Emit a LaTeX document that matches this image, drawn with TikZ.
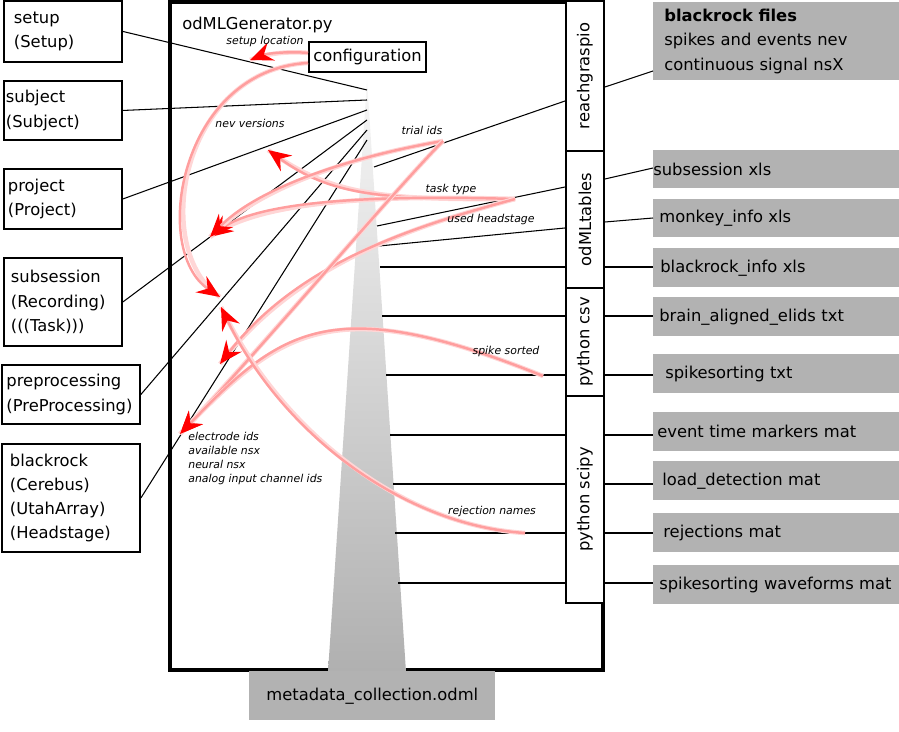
\documentclass[tikz,border=0pt]{standalone}
\usepackage{fontspec}
\setmainfont{DejaVu Sans}
\usepackage{graphicx}
\usepackage{xcolor}
\usepackage{tikz}
\usetikzlibrary{arrows.meta}

\newcommand{\boxfont}{\fontsize{9.3}{13.8}\selectfont}
\newcommand{\notefont}{\fontsize{6.2}{7.8}\selectfont\itshape}

\tikzset{
  obj/.style={draw, line width=1.1pt, anchor=north west, align=left, inner ysep=0pt, font=\boxfont},
  modbox/.style={draw, fill=white, line width=1.1pt, anchor=north west, inner sep=0pt, minimum width=0.76cm, font=\boxfont},
  filebox/.style={fill=gray!60, anchor=north west, align=left, inner xsep=0pt, inner ysep=0pt, text width=4.92cm, minimum height=0.78cm, font=\boxfont},
  link/.style={line width=0.6pt},
  flow/.style={draw=red!38, line width=1.4pt, preaction={draw=red!16, line width=2.6pt, arrows=-}, -{Stealth[red, length=13pt, width=11pt, inset=4.5pt]}},
  note/.style={font=\notefont, inner sep=0pt}
}

\begin{document}
\begin{tikzpicture}[x=0.02cm, y=-0.02cm]
        \useasboundingbox (0,0) rectangle (899,732);

        % generator frame and funnel
        \draw[line width=2.6pt] (170,1.5) rectangle (603,670);
        \node[anchor=west, inner sep=0pt, font=\boxfont] (gen) at (182,25) {odMLGenerator.py};
        \coordinate (apex) at (367,80);
        \shade[top color=gray!6, bottom color=gray!62] (apex) -- (406,672) -- (328,672) -- cycle;
        \node[fill=gray!60, anchor=north west, minimum width=4.92cm, minimum height=0.98cm, inner sep=0pt, font=\boxfont] (odml) at (249,671) {metadata\_collection.odml};

        \node[draw, line width=1.1pt, anchor=north west, minimum width=2.34cm, minimum height=0.6cm, inner sep=0pt, font=\boxfont] (cfg) at (308,41) {configuration};

        % odML sections
        \node[obj, inner xsep=0.2cm, text width=1.96cm, minimum height=1.22cm] (setup) at (3,0) {setup\\(Setup)};
        \node[obj, inner xsep=0.04cm, text width=2.28cm, minimum height=1.18cm] (subject) at (3,80) {subject\\(Subject)};
        \node[obj, inner xsep=0.08cm, text width=2.2cm, minimum height=1.2cm] (project) at (3,168) {project\\(Project)};
        \node[obj, inner xsep=0.14cm, text width=2.08cm, minimum height=1.76cm] (subs) at (3,257) {subsession\\(Recording)\\(((Task)))};
        \node[obj, inner xsep=0.09cm, text width=2.58cm, minimum height=1.18cm] (prepro) at (1,364) {preprocessing\\(PreProcessing)};
        \node[obj, inner xsep=0.16cm, text width=2.44cm, minimum height=2.16cm] (brock) at (1,443) {blackrock\\(Cerebus)\\(UtahArray)\\(Headstage)};

        % loaders
        \node[modbox, minimum height=3cm] (rg) at (565,0) {\rotatebox{90}{reachgraspio}};
        \node[modbox, minimum height=2.74cm] (odt) at (565,150) {\rotatebox{90}{odMLtables}};
        \node[modbox, minimum height=2.16cm] (csv) at (565,287) {\rotatebox{90}{python csv}};
        \node[modbox, minimum height=4.14cm] (scipy) at (565,395) {\rotatebox{90}{python scipy}};

        % source files
        \node[filebox, minimum height=1.56cm] (bfiles) at (653,2) {\hspace*{0.22cm}\textbf{blackrock files}\\\hspace*{0.22cm}spikes and events nev\\\hspace*{0.22cm}continuous signal nsX};
        \node[filebox, minimum height=0.76cm] (subxls) at (653,150) {subsession xls};
        \node[filebox, minimum height=0.76cm] (monkey) at (653,199) {\hspace*{0.12cm}monkey\_info xls};
        \node[filebox] (brinfo) at (653,248) {\hspace*{0.14cm}blackrock\_info xls};
        \node[filebox] (elids) at (653,297) {\hspace*{0.12cm}brain\_aligned\_elids txt};
        \node[filebox] (sstxt) at (653,354) {\hspace*{0.24cm}spikesorting txt};
        \node[filebox] (events) at (653,412) {\hspace*{0.08cm}event time markers mat};
        \node[filebox] (loaddet) at (653,461) {\hspace*{0.18cm}load\_detection mat};
        \node[filebox] (rejmat) at (653,513) {\hspace*{0.2cm}rejections mat};
        \node[filebox] (wave) at (653,565) {\hspace*{0.12cm}spikesorting waveforms mat};

        % funnel ends
        \coordinate (fl1) at (367,90);
        \coordinate (fl2) at (367,100);
        \coordinate (fl3) at (367,110);
        \coordinate (fl4) at (367,120);
        \coordinate (fl5) at (367,130);
        \coordinate (fl6) at (367,140);
        \coordinate (fr1) at (374,167);
        \coordinate (fr2) at (377,226);
        \coordinate (fr3) at (379,246);
        \coordinate (fr4) at (380,267);
        \coordinate (fr5) at (382,316);
        \coordinate (fr6) at (386,375);
        \coordinate (fr7) at (390,435);
        \coordinate (fr8) at (393,484);
        \coordinate (fr9) at (395,533);
        \coordinate (fr10) at (398,583);

        \draw[link] (setup.east) -- (fl1);
        \draw[link] (subject.east) -- (fl2);
        \draw[link] (project.east) -- (fl3);
        \draw[link] (subs.east) -- (fl4);
        \draw[link] (prepro.east) -- (fl5);
        \draw[link] (brock.east) -- (fl6);

        \draw[link] (fr1) -- (rg.west |- 0,101);
        \draw[link] (fr2) -- (odt.west |- 0,187);
        \draw[link] (fr3) -- (odt.west |- 0,228);
        \draw[link] (fr4) -- (odt.west |- fr4);
        \draw[link] (fr5) -- (csv.west |- fr5);
        \draw[link] (fr6) -- (csv.west |- fr6);
        \draw[link] (fr7) -- (scipy.west |- fr7);
        \draw[link] (fr8) -- (scipy.west |- fr8);
        \draw[link] (fr9) -- (scipy.west |- fr9);
        \draw[link] (fr10) -- (scipy.west |- fr10);

        \draw[link] (rg.east |- 0,87) -- (bfiles.west |- 0,71);
        \draw[link] (odt.east |- 0,179) -- (subxls.west |- 0,168);
        \draw[link] (odt.east |- 0,222) -- (monkey.west |- 0,218);
        \draw[link] (odt.east |- 0,267) -- (brinfo.west |- 0,267);
        \draw[link] (csv.east |- 0,316) -- (elids.west |- 0,316);
        \draw[link] (csv.east |- 0,375) -- (sstxt.west |- 0,375);
        \draw[link] (scipy.east |- 0,435) -- (events.west |- 0,435);
        \draw[link] (scipy.east |- 0,484) -- (loaddet.west |- 0,484);
        \draw[link] (scipy.east |- 0,533) -- (rejmat.west |- 0,533);
        \draw[link] (scipy.east |- 0,583) -- (wave.west |- 0,583);

        % metadata flow
        \coordinate (trialsrc) at (443,141);
        \coordinate (tasksrc) at (515,199);
        \coordinate (spikesrc) at (543,376);
        \coordinate (rejsrc) at (525,533);
        \coordinate (toSetup) at (250,60);
        \coordinate (toProj) at (268,150);
        \coordinate (toSubs) at (210,237);
        \coordinate (toPre) at (220,297);
        \coordinate (toPre2) at (221,307);
        \coordinate (toBr) at (220,364);
        \coordinate (toBr2) at (180,434);

        \draw[flow] ([yshift=2.3pt]cfg.west) .. controls (285,51) and (265,54) .. (toSetup);
        \draw[flow] ([yshift=-3.4pt]cfg.west) .. controls (180,70) and (150,250) .. (toPre);
        \draw[flow] (tasksrc) .. controls (380,200) and (330,195) .. (toProj);
        \draw[flow] (tasksrc) .. controls (380,195) and (260,200) .. (toSubs);
        \draw[flow] (trialsrc) .. controls (360,155) and (260,185) .. (toSubs);
        \draw[flow] (tasksrc) .. controls (420,225) and (300,260) .. (toBr);
        \draw[flow] (trialsrc) .. controls (390,195) and (260,350) .. (toBr2);
        \draw[flow] (spikesrc) .. controls (330,290) and (280,330) .. (toBr2);
        \draw[flow] (rejsrc) .. controls (400,525) and (280,430) .. (toPre2);

        \node[note] (lSetup) at (265,42) {setup location};
        \node[note] (lNev) at (250,123) {nev versions};
        \node[note] (lTrial) at (422,130) {trial ids};
        \node[note] (lTask) at (451,190) {task type};
        \node[note] (lHead) at (491,220) {used headstage};
        \node[note] (lSpike) at (506,351) {spike sorted};
        \node[note] (lRej) at (492,511) {rejection names};
        \node[note, anchor=west, align=left] (lElec) at (188,458.5) {electrode ids\\available nsx\\neural nsx\\analog input channel ids};
\end{tikzpicture}
\end{document}
